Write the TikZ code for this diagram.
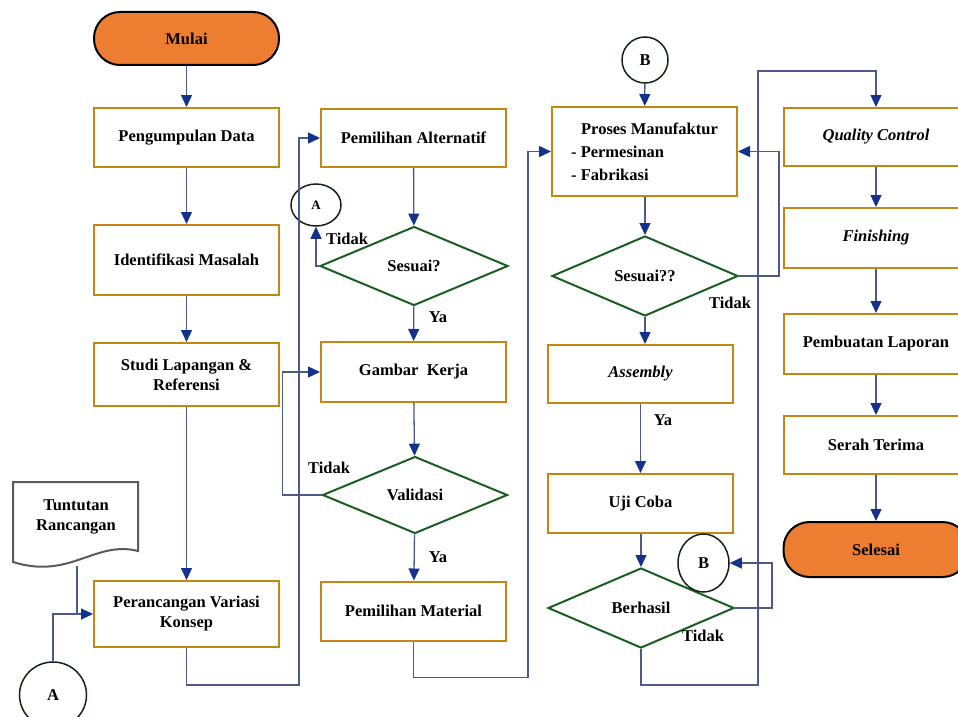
\documentclass[tikz,border=0pt]{standalone}
\usepackage{fontspec}
\setmainfont{Liberation Serif}
\usetikzlibrary{shapes.geometric,arrows.meta}
\definecolor{boxc}{RGB}{196,135,20}
\definecolor{diac}{RGB}{25,95,35}
\definecolor{linec}{RGB}{75,90,135}
\definecolor{arrowc}{RGB}{20,50,140}
\definecolor{termc}{RGB}{237,125,49}
\definecolor{circc}{RGB}{20,35,20}
\definecolor{docc}{RGB}{90,90,90}
\begin{document}
\begin{tikzpicture}[x=1pt,y=-1pt,
  font=\fontsize{16.5}{20}\selectfont\bfseries,
  box/.style={draw=boxc, line width=2pt, fill=white, minimum width=185pt, minimum height=59pt, inner sep=2pt, align=center},
  ibox/.style={box, font=\fontsize{16.5}{20}\selectfont\bfseries\itshape},
  dia/.style={diamond, draw=diac, line width=2pt, minimum width=186pt, minimum height=80pt, inner sep=0pt},
  term/.style={draw=black, line width=2pt, fill=termc, rounded corners=26pt, minimum width=185pt, minimum height=53pt},
  conn/.style={draw=linec, line width=1.3pt, -{Triangle[length=12pt,width=11pt,color=arrowc]}},
  plainc/.style={draw=linec, line width=1.3pt},
  circ/.style={ellipse, draw=circc, line width=1.5pt, inner sep=0pt},
  lbl/.style={inner sep=0pt, align=center}]
\useasboundingbox (0,0) rectangle (958,717);

% column 1
\node[term] (mulai) at (186.5,38.5) {Mulai};
\node[box] (pd) at (186.5,137.5) {Pengumpulan Data};
\node[box, minimum height=70pt] (im) at (186.5,260) {Identifikasi Masalah};
\node[box, minimum height=63pt] (sl) at (186.5,374.5) {Studi Lapangan \&\\Referensi};
\node[box, minimum height=66pt] (pvk) at (186.5,614) {Perancangan Variasi\\Konsep};
\draw[draw=docc, line width=2pt, fill=white] (13,482) -- (138,482) -- (138,551)
  .. controls (95,540) and (70,580) .. (13,562) -- cycle;
\node[lbl] (tr) at (76,517) {Tuntutan\\Rancangan};
\coordinate (tb) at (77,566);
\node[circ, minimum width=67pt, minimum height=66pt] (A1) at (53,695) {A};

% column 2
\node[box, minimum height=58pt] (pa) at (413.5,138) {Pemilihan Alternatif};
\node[circ, minimum width=50pt, minimum height=42pt, font=\fontsize{13}{15}\selectfont\bfseries] (A2) at (316,205) {A};
\node[dia, minimum width=188pt, minimum height=79pt] (s1) at (414,266) {Sesuai?};
\node[box, minimum height=60pt] (gk) at (413.5,372) {Gambar\ \ Kerja};
\node[dia, minimum width=185pt, minimum height=77pt] (val) at (415,495) {Validasi};
\node[box] (pm) at (413.5,611) {Pemilihan Material};

% column 3
\node[circ, minimum width=46pt, minimum height=46pt] (B1) at (645,60) {B};
\node[box, minimum height=89pt, align=left, font=\fontsize{16.5}{23}\selectfont\bfseries] (pmf) at (644.5,151.5) {\hspace*{10pt}Proses Manufaktur\\- Permesinan\\- Fabrikasi};
\node[dia] (s2) at (645,276) {Sesuai??};
\node[ibox, minimum height=58pt] (asm) at (640.5,374) {Assembly};
\node[box] (uji) at (640.5,503.5) {Uji Coba};
\node[dia] (ber) at (641,608) {Berhasil};
\node[circ, minimum width=51pt, minimum height=58pt] (B2) at (703.5,563) {B};

% column 4
\node[ibox, minimum height=58pt] (qc) at (876,137) {Quality Control};
\node[ibox, minimum height=60pt] (fin) at (876,238) {Finishing};
\node[box, minimum height=60pt] (pl) at (876,344) {Pembuatan Laporan};
\node[box, minimum height=58pt] (st) at (876,445) {Serah Terima};
\node[term, minimum height=55pt] (sel) at (876,549.5) {Selesai};

% connectors column 1
\draw[conn] (mulai) -- (pd);
\draw[conn] (pd) -- (im);
\draw[conn] (im) -- (sl);
\draw[conn] (sl) -- (pvk);
\draw[conn] (A1.north) |- (pvk.west);
\draw[plainc] (tb) -- (tb |- pvk.west);
\draw[conn] (pvk.south) -- ++(0,37) -| ([xshift=-21pt]pa.west) -- (pa.west);

% connectors column 2
\draw[conn] (pa) -- (s1);
\draw[conn] (s1.west) -| (A2.south);
\draw[conn] (s1) -- (gk);
\draw[conn] (gk) -- (val);
\draw[conn] (val.west) -- ++(-39,0) |- (gk.west);
\draw[conn] (val) -- (pm);
\draw[conn] (pm.south) -- ++(0,36) -| ([xshift=-23pt]pmf.west) -- (pmf.west);

% connectors column 3
\draw[conn] (B1) -- (pmf);
\draw[conn] (pmf.south -| s2.north) -- (s2.north);
\draw[conn] (s2.east) -- ++(40,0) |- (pmf.east);
\draw[conn] (s2.south) -- (s2.south |- asm.north);
\draw[conn] (asm) -- (uji);
\draw[conn] (uji.south -| ber.north) -- (ber.north);
\draw[conn] (ber.east) -- ++(37,0) |- (B2.east);
\coordinate (t1) at (758,71);
\draw[conn] (ber.south) -- ++(0,36) -| (t1) -| (qc.north);

% connectors column 4
\draw[conn] (qc) -- (fin);
\draw[conn] (fin) -- (pl);
\draw[conn] (pl) -- (st);
\draw[conn] (st) -- (sel);

% labels
\node[lbl] (l1) at (347,239) {Tidak};
\node[lbl] (l2) at (438,317) {Ya};
\node[lbl] (l3) at (329,468) {Tidak};
\node[lbl] (l4) at (438,557) {Ya};
\node[lbl] (l5) at (730,303) {Tidak};
\node[lbl] (l6) at (663,420) {Ya};
\node[lbl] (l7) at (703,636) {Tidak};
\end{tikzpicture}
\end{document}
